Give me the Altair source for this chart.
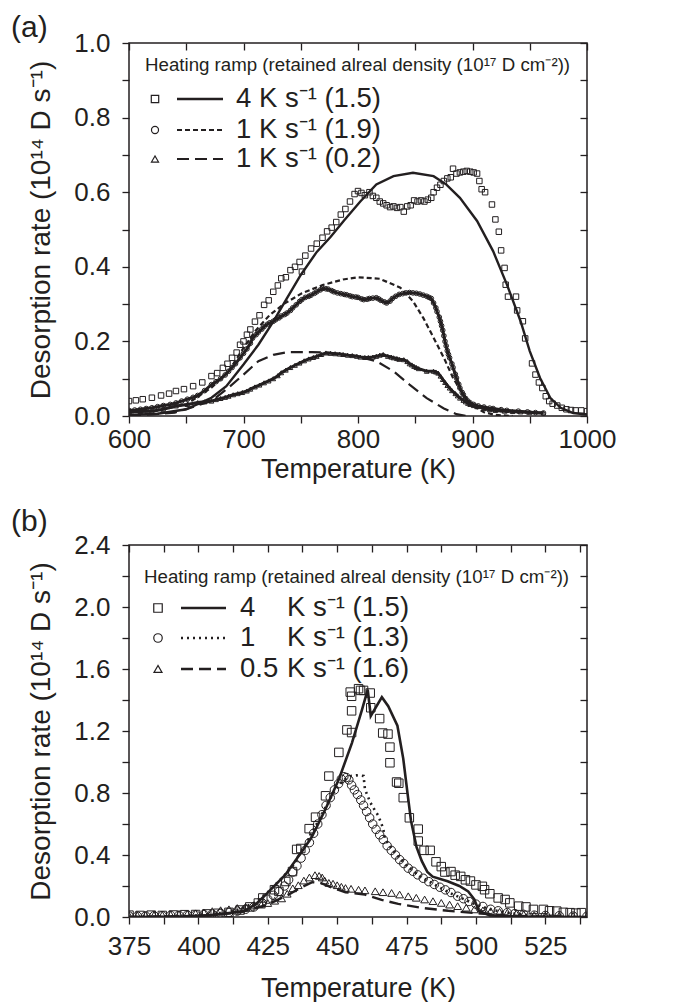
import altair as alt
import pandas as pd

FONT = "Liberation Sans"
INK = "#231f20"

# ---------------- Panel (a): 600-1000 K ----------------
a_squares = [(600,.040),(606,.042),(612,.045),(620,.049),(628,.055),(635,.060),(641,.067),(648,.072),(656,.080),(664,.090),(672,.107),(677,.115),(682,.129),(686,.140),(690,.156),(694,.170),(697,.191),(700,.200),(703,.218),(706,.232),(710,.253),(714,.270),(718,.298),(722,.310),(726,.333),(730,.350),(733,.369),(737,.372),(741,.391),(745,.400),(749,.413),(751,.387),(754,.430),(759,.449),(764,.462),(769,.478),(773,.495),(777,.505),(781,.520),(785,.540),(789,.555),(793,.575),(797,.595),(800,.603),(803,.598),(806,.592),(810,.600),(813,.590),(816,.585),(819,.575),(822,.570),(825,.565),(828,.560),(831,.562),(834,.558),(837,.560),(840,.548),(843,.562),(846,.565),(849,.578),(852,.575),(855,.578),(858,.575),(861,.580),(864,.585),(866,.600),(869,.612),(872,.620),(875,.630),(878,.637),(881,.640),(883,.663),(886,.650),(889,.653),(892,.655),(895,.657),(898,.655),(901,.653),(904,.650),(906,.630),(908,.608),(911,.600),(917,.567),(920,.527),(923,.494),(925,.444),(928,.397),(929,.352),(931,.320),(938,.320),(939,.283),(944,.254),(946,.208),(952,.141),(955,.111),(958,.090),(961,.075),(964,.053),(967,.040),(970,.033),(974,.028),(978,.022),(982,.018),(986,.016),(990,.015),(995,.015),(1000,.013)]

a_circles = [(600,.015),(605,.016),(610,.018),(615,.020),(620,.022),(625,.025),(630,.028),(636,.031),(641,.035),(646,.040),(651,.045),(656,.050),(660,.055),(666,.068),(672,.084),(676,.092),(680,.100),(684,.110),(687,.120),(690,.130),(693,.140),(697,.156),(700,.168),(703,.180),(706,.195),(708,.209),(711,.218),(713,.225),(716,.233),(718,.240),(721,.246),(723,.250),(726,.254),(728,.258),(731,.263),(733,.268),(736,.272),(738,.276),(741,.283),(743,.290),(746,.298),(749,.307),(751,.312),(754,.318),(757,.321),(759,.324),(762,.329),(764,.333),(767,.338),(769,.342),(772,.341),(774,.340),(777,.336),(779,.333),(782,.330),(785,.328),(788,.326),(790,.325),(793,.322),(795,.320),(798,.319),(800,.318),(803,.314),(805,.312),(808,.313),(810,.315),(813,.316),(816,.317),(818,.314),(820,.310),(823,.306),(825,.303),(828,.308),(830,.315),(833,.321),(836,.326),(839,.328),(842,.330),(845,.331),(848,.330),(851,.329),(854,.327),(857,.324),(860,.321),(862,.318),(864,.315),(866,.303),(868,.290),(869,.280),(871,.265),(872,.254),(873,.242),(874,.230),(875,.215),(876,.200),(877,.188),(878,.175),(879,.165),(880,.156),(882,.140),(883,.130),(885,.112),(886,.102),(888,.085),(889,.075),(891,.063),(892,.057),(894,.047),(896,.040),(898,.035),(901,.031),(905,.027),(910,.024),(915,.021),(918,.020),(925,.017),(930,.015),(940,.013),(948,.011),(955,.009),(962,.008)]

a_triangles = [(600,.011),(610,.012),(620,.013),(630,.018),(641,.027),(651,.031),(660,.036),(666,.038),(672,.040),(676,.044),(680,.047),(684,.050),(687,.053),(691,.057),(695,.060),(699,.063),(703,.067),(706,.072),(710,.078),(714,.083),(718,.089),(722,.094),(726,.100),(730,.108),(733,.116),(737,.123),(741,.130),(745,.136),(749,.142),(753,.148),(757,.153),(761,.157),(764,.160),(768,.165),(772,.169),(776,.168),(780,.167),(784,.166),(787,.165),(791,.163),(795,.162),(799,.160),(802,.158),(806,.157),(809,.157),(813,.158),(816,.160),(819,.163),(822,.165),(826,.160),(829,.158),(831,.156),(834,.154),(836,.152),(840,.151),(843,.146),(845,.140),(847,.137),(849,.133),(851,.130),(853,.127),(860,.120),(866,.120),(868,.118),(870,.115),(872,.107),(874,.098),(876,.090),(878,.082),(880,.075),(882,.068),(885,.060),(887,.054),(889,.048),(892,.042),(894,.038),(896,.034),(898,.031),(901,.028),(904,.025),(910,.020),(915,.017),(920,.015),(928,.013),(935,.012),(942,.011),(950,.010),(962,.008)]

a_model_4 = [(600,.003),(625,.006),(650,.018),(672,.049),(685,.080),(700,.138),(713,.191),(726,.253),(738,.316),(750,.378),(764,.440),(776,.480),(788,.525),(802,.575),(816,.621),(831,.643),(848,.652),(866,.643),(877,.621),(889,.585),(904,.523),(918,.442),(930,.353),(942,.254),(950,.174),(959,.102),(968,.048),(977,.022),(988,.008),(1000,.004)]
a_model_1_hi = [(600,.009),(625,.015),(650,.031),(672,.076),(687,.120),(698,.173),(710,.227),(723,.271),(736,.302),(751,.329),(769,.351),(787,.366),(800,.372),(819,.368),(837,.344),(848,.308),(857,.263),(866,.210),(875,.156),(883,.102),(892,.057),(901,.026),(910,.010),(920,.003),(935,.0)]
a_model_1_lo = [(600,.0),(640,.009),(672,.040),(687,.076),(700,.111),(713,.147),(726,.164),(738,.171),(749,.171),(760,.171),(773,.170),(788,.165),(802,.158),(816,.147),(831,.120),(845,.084),(860,.048),(875,.020),(886,.005),(895,.0)]

a_x_ticks = [600, 650, 700, 750, 800, 850, 900, 950, 1000]
a_y_ticks = [0.0, 0.1, 0.2, 0.3, 0.4, 0.5, 0.6, 0.7, 0.8, 0.9, 1.0]
a_legend_title = "Heating ramp (retained alreal density (10¹⁷ D cm⁻²))"
a_legend_labels = ["4 K s⁻¹ (1.5)", "1 K s⁻¹ (1.9)", "1 K s⁻¹ (0.2)"]

# ---------------- Panel (b): 375-540 K ----------------
b_squares = [(375,.012),(379,.010),(383,.012),(387,.010),(391,.013),(395,.015),(399,.016),(403,.020),(407,.024),(411,.030),(415,.045),(418.5,.065),(421.6,.090),(423.2,.123),(427.4,.176),(429,.165),(431.5,.229),(433.9,.293),(435.4,.436),(436.9,.442),(439.9,.570),(442.2,.644),(445.8,.782),(447.0,.909),(450.6,1.062),(453.5,1.207),(455.2,1.190),(455.2,1.330),(455.2,1.424),(454.7,1.451),(457.7,1.473),(458.4,1.462),(459.5,1.462),(461.9,1.445),(462.1,1.350),(465.3,1.280),(466.4,1.187),(468.3,1.180),(469.0,1.096),(469.0,0.995),(471.4,0.871),(472.2,0.863),(473.8,0.770),(476.0,0.640),(479.2,0.567),(479.2,0.490),(481.3,0.430),(483.5,0.430),(485.6,0.356),(487.5,0.325),(488.8,0.290),(491.0,0.293),(492.5,0.270),(494.5,0.262),(496.2,0.240),(498.0,0.232),(500.0,0.207),(502.3,0.198),(503.1,0.176),(505.0,0.150),(508.0,0.123),(510.5,0.113),(512.2,0.091),(515.4,0.070),(518.0,0.065),(520.7,0.049),(524.3,0.049),(526.5,0.040),(529.1,0.038),(531.5,0.030),(533.9,0.028),(536.0,0.025),(538.0,0.028)]

b_circles = [(375,.006),(378,.006),(381,.007),(384,.008),(387,.008),(390,.010),(393,.011),(396,.012),(399,.014),(402,.016),(405,.020),(408,.024),(411,.030),(414,.038),(417,.050),(420,.065),(423,.090),(425,.115),(427,.140),(429,.165),(431,.200),(432.5,.240),(434,.290),(435.5,.330),(437,.380),(438.5,.430),(440,.480),(441.5,.540),(443,.600),(444.5,.660),(446,.720),(447.5,.770),(449,.820),(450.5,.860),(451.5,.890),(452.4,.905),(453.3,.900),(454.2,.885),(455.2,.850),(456.2,.820),(457.3,.790),(458.5,.755),(459.5,.720),(460.6,.680),(461.7,.640),(462.8,.600),(464,.565),(465.3,.530),(466.6,.500),(468,.460),(469.5,.430),(471,.400),(472.5,.370),(474,.345),(475.6,.315),(477.3,.295),(479,.272),(481,.250),(483,.228),(485,.210),(487,.192),(489,.175),(491,.158),(493.4,.134),(495.5,.118),(497.5,.100),(500,.083),(502.5,.068),(505.3,.050),(508,.040),(511.3,.028),(514,.022),(517.2,.017),(521,.012),(525,.010),(530,.008),(535,.006),(540,.005)]

b_triangles = [(375,.010),(378,.011),(381,.012),(384,.012),(387,.013),(390,.015),(393,.018),(396,.020),(399,.024),(402,.030),(405,.038),(408,.044),(411,.050),(414,.058),(417,.066),(420,.074),(422.7,.080),(425,.090),(427.5,.105),(430,.120),(432,.150),(434,.185),(436,.205),(438,.235),(440,.255),(442,.270),(443.5,.265),(444.6,.255),(445.5,.235),(447,.220),(448.5,.215),(450,.205),(451.5,.195),(453,.187),(455,.182),(457.7,.176),(460,.172),(463.7,.166),(466.5,.160),(469.6,.155),(472.5,.145),(475.6,.134),(478.5,.124),(481.5,.113),(484.5,.102),(487.5,.091),(490.5,.080),(493.4,.070),(496.5,.060),(499.4,.049),(502.5,.043),(505.3,.038),(508.5,.033),(511.3,.028),(514.5,.022),(517.2,.017),(521,.013),(525,.010),(530,.008),(535,.007),(540,.006)]

b_model_4 = [(375,.0),(385,.002),(395,.005),(405,.012),(411,.025),(416.3,.038),(420.5,.080),(424.8,.154),(431.2,.270),(437.6,.430),(440.8,.514),(445.8,.697),(450.6,.888),(455.3,1.122),(458.9,1.334),(461.0,1.467),(462.1,1.297),(466.1,1.418),(468.4,1.360),(471.7,1.234),(473.8,1.022),(475.4,.789),(476.6,.620),(478.6,.450),(480.5,.360),(482.5,.290),(484.4,.260),(489.8,.230),(494.0,.200),(497.2,.165),(499.4,.114),(501.0,.040),(505,.010),(515,.003),(540,.0)]
b_model_1 = [(375,.0),(390,.003),(400,.010),(410,.030),(415,.050),(420,.090),(425,.160),(430,.250),(434,.330),(437,.420),(440,.510),(442,.580),(445,.680),(447,.750),(449,.810),(451,.860),(453,.890),(455,.910),(457.5,.915),(459.5,.910),(460,.824),(461.9,.740),(463.5,.690),(464.8,.654),(466.6,.570),(467.2,.506),(470,.430),(475,.330),(480,.260),(485,.210),(490,.160),(495,.120),(500,.080),(505,.050),(510,.030),(520,.010),(530,.002),(540,.0)]
b_model_05 = [(375,.0),(400,.005),(415,.030),(425,.080),(432,.140),(437,.190),(441,.225),(444,.220),(448,.190),(453,.160),(460,.145),(466,.110),(472,.085),(480,.060),(490,.040),(500,.025),(510,.012),(520,.004),(530,.0)]

b_x_ticks = [375, 387.5, 400, 412.5, 425, 437.5, 450, 462.5, 475, 487.5, 500, 512.5, 525, 537.5]
b_y_ticks = [0.0, 0.2, 0.4, 0.6, 0.8, 1.0, 1.2, 1.4, 1.6, 1.8, 2.0, 2.2, 2.4]
b_legend_title = "Heating ramp (retained alreal density (10¹⁷ D cm⁻²))"
b_legend_rates = ["4", "1", "0.5"]
b_legend_units = ["K s⁻¹ (1.5)", "K s⁻¹ (1.3)", "K s⁻¹ (1.6)"]

Y_TITLE = "Desorption rate (10¹⁴ D s⁻¹)"
X_TITLE = "Temperature (K)"


def frame(pairs):
    return pd.DataFrame({"T": [p[0] for p in pairs], "v": [p[1] for p in pairs]})


def one(text):
    return pd.DataFrame({"t": [text]})


def build_panel(tag, tag_y, W, H, xdom, ydom, xticks, yticks, xexpr, yexpr,
                xlabpad, xtitlepad, markers, lines, bands, legend):
    xs = alt.Scale(domain=xdom, nice=False, zero=False)
    ys = alt.Scale(domain=ydom, nice=False, zero=False)
    bottom = alt.Axis(orient="bottom", values=xticks, labelExpr=xexpr, title=X_TITLE,
                      tickSize=7, labelPadding=xlabpad, titlePadding=xtitlepad,
                      labelFlush=False, labelOverlap=False, grid=False, domain=False)
    left = alt.Axis(orient="left", values=yticks, labelExpr=yexpr, title=Y_TITLE,
                    tickSize=7, labelPadding=12, titlePadding=18, titleFontSize=28,
                    labelFlush=False, labelOverlap=False, grid=False, domain=False)
    top = alt.Axis(orient="top", values=xticks, labels=False, title=None, tickSize=7,
                   offset=-7, grid=False, domain=False)
    right = alt.Axis(orient="right", values=yticks, labels=False, title=None, tickSize=7,
                     offset=-7, grid=False, domain=False, minExtent=0)
    xm = alt.X("T:Q", scale=xs, axis=bottom)
    ym = alt.Y("v:Q", scale=ys, axis=left)
    xt = alt.X("T:Q", scale=xs, axis=top)
    yr = alt.Y("v:Q", scale=ys, axis=right)
    xn = alt.X("T:Q", scale=xs, axis=None)
    yn = alt.Y("v:Q", scale=ys, axis=None)

    layers = []
    for i, (pairs, width, dash) in enumerate(lines):
        kw = dict(color=INK, strokeWidth=width, clip=True)
        if dash:
            kw["strokeDash"] = dash
        enc = (xm, ym) if i == 0 else ((xt, yr) if i == 1 else (xn, yn))
        layers.append(alt.Chart(frame(pairs)).mark_line(**kw).encode(x=enc[0], y=enc[1]))
    for pairs, width in bands:
        layers.append(alt.Chart(frame(pairs)).mark_line(color=INK, strokeWidth=width, clip=True)
                      .encode(x=xn, y=yn))
    for pairs, shape, size in markers:
        layers.append(alt.Chart(frame(pairs)).mark_point(shape=shape, size=size, filled=False,
                                                         color=INK, strokeWidth=1.0, opacity=1,
                                                         clip=True).encode(x=xn, y=yn))
    # legend
    layers.append(alt.Chart(one(legend["title"])).mark_text(
        align="left", baseline="middle", font=FONT, fontSize=18.7, color=INK)
        .encode(x=alt.value(legend["title_x"]), y=alt.value(legend["title_y"]), text="t:N"))
    for k, yy in enumerate(legend["rows"]):
        shape, ssize = legend["symbols"][k]
        layers.append(alt.Chart(one("s")).mark_point(shape=shape, size=ssize, filled=False,
                                                     color=INK, strokeWidth=1.2, opacity=1)
                      .encode(x=alt.value(legend["sym_x"]), y=alt.value(yy)))
        kw = dict(color=INK, strokeWidth=legend["widths"][k])
        if legend["dashes"][k]:
            kw["strokeDash"] = legend["dashes"][k]
        layers.append(alt.Chart(one("l")).mark_rule(**kw).encode(
            x=alt.value(legend["line_x"][0]), x2=alt.value(legend["line_x"][1]), y=alt.value(yy)))
        for col, texts in legend["texts"]:
            layers.append(alt.Chart(one(texts[k])).mark_text(
                align="left", baseline="middle", font=FONT, fontSize=27.5, color=INK)
                .encode(x=alt.value(col), y=alt.value(yy), text="t:N"))
    # panel tag
    layers.append(alt.Chart(one(tag)).mark_text(align="left", baseline="middle", font=FONT,
                                                fontSize=30, color=INK)
                  .encode(x=alt.value(-118), y=alt.value(tag_y), text="t:N"))
    return alt.layer(*layers).resolve_axis(x="independent", y="independent").properties(width=W, height=H)


panel_a = build_panel(
    "(a)", -15, 458, 373, [600, 1000], [0, 1.0], a_x_ticks, a_y_ticks,
    "datum.value % 100 === 0 ? format(datum.value, 'd') : ''",
    "round(datum.value * 10) % 2 === 0 ? format(datum.value, '.1f') : ''",
    3, 4,
    markers=[(a_squares, "square", 30), (a_circles, "circle", 22), (a_triangles, "triangle-up", 22)],
    lines=[(a_model_4, 2.4, None), (a_model_1_hi, 2.2, [5, 3]), (a_model_1_lo, 2.2, [12, 6])],
    bands=[(a_circles, 3.0), (a_triangles, 3.0)],
    legend=dict(title=a_legend_title, title_x=16, title_y=22, rows=[56, 87, 116],
                symbols=[("square", 55), ("circle", 50), ("triangle-up", 50)],
                sym_x=26, line_x=(48, 94), widths=[2.4, 2.2, 2.2],
                dashes=[None, [5, 3], [12, 6]],
                texts=[(107, a_legend_labels)]),
)

panel_b = build_panel(
    "(b)", -23, 458, 372, [375, 540], [0, 2.4], b_x_ticks, b_y_ticks,
    "(datum.value - 375) % 25 === 0 ? format(datum.value, 'd') : ''",
    "round(datum.value * 10) % 4 === 0 ? format(datum.value, '.1f') : ''",
    9, 16,
    markers=[(b_squares, "square", 72), (b_circles, "circle", 72), (b_triangles, "triangle-up", 60)],
    lines=[(b_model_4, 2.6, None), (b_model_1, 2.6, [2, 4]), (b_model_05, 2.4, [12, 6])],
    bands=[],
    legend=dict(title=b_legend_title, title_x=15, title_y=32, rows=[63, 93, 124],
                symbols=[("square", 72), ("circle", 72), ("triangle-up", 64)],
                sym_x=29, line_x=(52, 97), widths=[2.4, 2.4, 2.4],
                dashes=[None, [2, 4], [12, 6]],
                texts=[(111, b_legend_rates), (158, b_legend_units)]),
)

chart = alt.vconcat(panel_a, panel_b, spacing=23).properties(
    padding={"left": 2, "top": 4, "right": 5, "bottom": 0}
).configure(font=FONT).configure_view(
    stroke=INK, strokeWidth=1.5
).configure_axis(
    labelFont=FONT, titleFont=FONT, labelFontSize=26, titleFontSize=27,
    labelColor=INK, titleColor=INK, tickColor=INK, tickWidth=1.3, titleFontWeight="normal"
)

chart.save("out.html", embed_options={"renderer": "svg", "actions": False})
